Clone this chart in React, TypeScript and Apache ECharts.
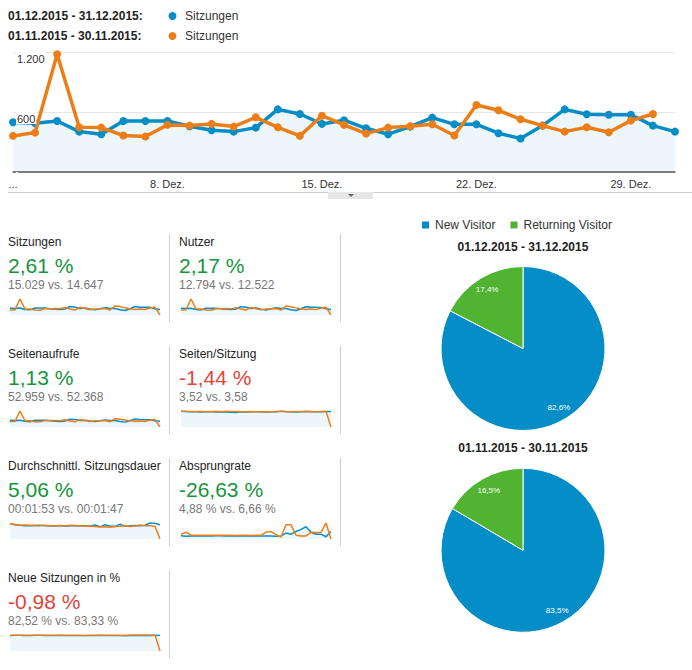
import React, { useEffect, useRef } from 'react';
import * as echarts from 'echarts';

const FONT = "'Liberation Sans', Arial, Helvetica, sans-serif";
const BLUE = '#058dc7';
const ORANGE = '#ed7e17';
const GREEN_PIE = '#50b432';
const GOOD = '#16963c';
const BAD = '#e2443a';

// ---- main chart data ----
const days = [
  '1. Dez.', '2. Dez.', '3. Dez.', '4. Dez.', '5. Dez.', '6. Dez.', '7. Dez.', '8. Dez.', '9. Dez.', '10. Dez.',
  '11. Dez.', '12. Dez.', '13. Dez.', '14. Dez.', '15. Dez.', '16. Dez.', '17. Dez.', '18. Dez.', '19. Dez.', '20. Dez.',
  '21. Dez.', '22. Dez.', '23. Dez.', '24. Dez.', '25. Dez.', '26. Dez.', '27. Dez.', '28. Dez.', '29. Dez.', '30. Dez.', '31. Dez.',
];
const periods = ['01.12.2015 - 31.12.2015', '01.11.2015 - 30.11.2015'];
const mainMetric = 'Sitzungen';
const sessionsDec = [497, 487, 510, 404, 378, 510, 510, 510, 457, 418, 404, 444, 626, 580, 481, 518, 437, 378, 454, 544, 477, 477, 388, 335, 464, 626, 577, 573, 573, 464, 404];
const sessionsNov = [361, 394, 1177, 447, 444, 365, 355, 471, 464, 481, 454, 547, 447, 361, 563, 471, 384, 444, 457, 477, 365, 670, 617, 527, 464, 404, 447, 398, 514, 580];
const yMax = 1200;
const yInterval = 600;

// ---- metric cards ----
const metricNames = ['Sitzungen', 'Nutzer', 'Seitenaufrufe', 'Seiten/Sitzung', 'Durchschnittl. Sitzungsdauer', 'Absprungrate', 'Neue Sitzungen in %'];
const metricChanges = ['2,61 %', '2,17 %', '1,13 %', '-1,44 %', '5,06 %', '-26,63 %', '-0,98 %'];
const metricGood = [true, true, true, false, true, true, false];
const metricCurrent = ['15.029', '12.794', '52.959', '3,52', '00:01:53', '4,88 %', '82,52 %'];
const metricPrevious = ['14.647', '12.522', '52.368', '3,58', '00:01:47', '6,66 %', '83,33 %'];

// sparkline series (December = blue, November = orange; Nov. has no 31st -> 0)
const sparkSitzungenDec = sessionsDec;
const sparkSitzungenNov = [361, 394, 1177, 447, 444, 365, 355, 471, 464, 481, 454, 547, 447, 361, 563, 471, 384, 444, 457, 477, 365, 670, 617, 527, 464, 404, 447, 398, 514, 580, 0];
const sparkNutzerDec = [425, 418, 436, 348, 326, 432, 437, 438, 392, 360, 347, 380, 530, 494, 412, 440, 375, 325, 390, 462, 408, 409, 335, 290, 398, 530, 490, 487, 486, 398, 350];
const sparkNutzerNov = [312, 340, 1020, 385, 383, 316, 308, 404, 400, 413, 391, 470, 385, 312, 484, 405, 331, 382, 393, 410, 316, 575, 530, 454, 400, 348, 385, 343, 442, 498, 0];
const sparkAufrufeDec = [1750, 1720, 1790, 1500, 1400, 1760, 1780, 1790, 1620, 1500, 1470, 1580, 2050, 1950, 1700, 1780, 1560, 1420, 1620, 1850, 1680, 1690, 1420, 1280, 1650, 2100, 1950, 1930, 1920, 1640, 1480];
const sparkAufrufeNov = [1380, 1480, 4200, 1640, 1620, 1380, 1350, 1700, 1680, 1730, 1640, 1900, 1600, 1360, 1930, 1700, 1420, 1620, 1660, 1720, 1380, 2200, 2050, 1820, 1660, 1480, 1600, 1460, 1800, 1950, 0];
const sparkSeitenDec = [3.62, 3.58, 3.55, 3.5, 3.45, 3.52, 3.55, 3.48, 3.5, 3.46, 3.42, 3.35, 3.5, 3.48, 3.55, 3.52, 3.5, 3.45, 3.52, 3.55, 3.7, 3.6, 3.52, 3.48, 3.55, 3.62, 3.58, 3.55, 3.52, 3.6, 3.58];
const sparkSeitenNov = [3.7, 3.65, 3.6, 3.58, 3.62, 3.55, 3.6, 3.62, 3.58, 3.65, 3.62, 3.6, 3.55, 3.5, 3.58, 3.55, 3.52, 3.48, 3.55, 3.6, 3.58, 3.52, 3.55, 3.6, 3.58, 3.55, 3.6, 3.52, 3.58, 3.62, 0];
const sparkDauerDec = [128, 120, 115, 112, 110, 114, 116, 112, 110, 108, 112, 106, 110, 114, 110, 112, 106, 118, 102, 120, 108, 104, 124, 106, 112, 114, 110, 116, 134, 132, 118];
const sparkDauerNov = [126, 122, 116, 118, 116, 114, 112, 116, 110, 112, 114, 108, 116, 110, 112, 106, 108, 104, 100, 102, 98, 104, 106, 110, 104, 108, 118, 110, 112, 104, 0];
const sparkAbsprungDec = [3.0, 2.6, 2.8, 3.0, 2.9, 3.0, 2.8, 3.0, 3.1, 2.9, 3.0, 2.8, 3.0, 2.9, 3.0, 2.8, 2.7, 2.9, 2.8, 2.6, 2.9, 5.6, 4.5, 7.0, 9.0, 11.5, 6.3, 4.5, 4.5, 2.1, 7.0];
const sparkAbsprungNov = [4.5, 6.3, 3.8, 3.5, 3.6, 3.4, 3.5, 3.6, 3.5, 3.4, 3.5, 3.3, 3.5, 3.4, 3.3, 3.4, 3.5, 6.5, 7.0, 4.0, 1.8, 13.3, 13.3, 3.5, 2.8, 2.8, 6.3, 6.0, 6.3, 15.0, 0];
const sparkNeuDec = [82.5, 82.8, 83.0, 82.6, 82.4, 82.7, 82.9, 82.5, 82.3, 82.6, 82.8, 82.4, 82.6, 82.5, 82.2, 81.5, 82.6, 82.4, 82.7, 82.5, 82.3, 82.6, 82.0, 81.2, 82.5, 82.8, 82.6, 82.7, 82.5, 82.9, 83.0];
const sparkNeuNov = [83.5, 83.2, 83.0, 83.4, 83.1, 83.3, 83.6, 83.2, 83.0, 83.4, 83.3, 83.1, 83.5, 83.2, 82.8, 82.0, 83.1, 83.4, 83.2, 83.0, 83.3, 83.1, 83.4, 83.2, 84.2, 84.5, 84.3, 84.6, 84.4, 84.2, 0];

const sparkDec = [sparkSitzungenDec, sparkNutzerDec, sparkAufrufeDec, sparkSeitenDec, sparkDauerDec, sparkAbsprungDec, sparkNeuDec];
const sparkNov = [sparkSitzungenNov, sparkNutzerNov, sparkAufrufeNov, sparkSeitenNov, sparkDauerNov, sparkAbsprungNov, sparkNeuNov];

// ---- pies ----
const visitorTypes = ['New Visitor', 'Returning Visitor'];
const visitorColors = [BLUE, GREEN_PIE];
const visitorsDec = [82.6, 17.4];
const visitorsNov = [83.5, 16.5];

function fmtDe(v: number) {
  return String(v).replace(/\B(?=(\d{3})+(?!\d))/g, '.');
}

export default function App() {
  const ref = useRef<HTMLDivElement>(null);

  useEffect(() => {
    if (!ref.current) return;
    const chart = echarts.init(ref.current, null, { renderer: 'svg' });

    const grids: any[] = [{ left: 13, right: 17, top: 52, height: 120 }];
    const xAxes: any[] = [
      {
        type: 'category', gridIndex: 0, data: days, boundaryGap: false,
        axisLine: { lineStyle: { color: '#555', width: 1.5 } },
        axisTick: { show: false },
        axisLabel: {
          interval: 6, color: '#333', fontSize: 11, fontFamily: FONT, margin: 6,
          formatter: (v: string, i: number) => (i === 0 ? '...' : v),
        },
      },
    ];
    const yAxes: any[] = [
      {
        type: 'value', gridIndex: 0, position: 'left', min: 0, max: yMax, interval: yInterval,
        axisLabel: { show: false }, axisLine: { show: false }, axisTick: { show: false },
        splitLine: { lineStyle: { color: '#e6e6e6' } },
      },
      {
        type: 'value', gridIndex: 0, position: 'left', min: 0, max: yMax, interval: yInterval, z: 10,
        axisLine: { show: false }, axisTick: { show: false }, splitLine: { show: false },
        axisLabel: {
          inside: true, margin: 3, align: 'left', verticalAlign: 'top', color: '#333', fontSize: 11,
          fontFamily: FONT, backgroundColor: '#fff', padding: [1, 1, 0, 1],
          formatter: (v: number) => (v === 0 ? '' : fmtDe(v)),
        },
      },
    ];
    const series: any[] = [
      {
        type: 'line', name: 'Sitzungen Dez', xAxisIndex: 0, yAxisIndex: 0, data: sessionsDec,
        color: BLUE, lineStyle: { width: 3.5 }, symbol: 'circle', symbolSize: 8, showSymbol: true,
        areaStyle: { color: 'rgba(5,141,199,0.1)' }, z: 2,
      },
      {
        type: 'line', name: 'Sitzungen Nov', xAxisIndex: 0, yAxisIndex: 0, data: sessionsNov,
        color: ORANGE, lineStyle: { width: 3.5 }, symbol: 'circle', symbolSize: 8, showSymbol: true, z: 3,
      },
    ];

    const graphics: any[] = [];
    const txt = (x: number, y: number, text: string, opts: any = {}) => ({
      type: 'text', x, y, silent: true,
      style: {
        text, fill: opts.fill || '#222', fontSize: opts.size || 12, fontWeight: opts.weight || 'normal',
        fontFamily: FONT, verticalAlign: 'middle', align: opts.align || 'left',
      },
    });
    const vline = (x: number, y1: number, y2: number) => ({
      type: 'line', silent: true, shape: { x1: x, y1, x2: x, y2 }, style: { stroke: '#cfcfcf', lineWidth: 1 },
    });

    // main legend
    const legendColors = [BLUE, ORANGE];
    periods.forEach((p, i) => {
      const y = 16 + 20 * i;
      graphics.push(txt(8, y, p + ':', { weight: 'bold' }));
      graphics.push({ type: 'circle', silent: true, shape: { cx: 172.5, cy: y, r: 4 }, style: { fill: legendColors[i] } });
      graphics.push(txt(185, y, mainMetric, { fill: '#333' }));
    });

    // separator under main chart + collapse tab
    graphics.push({ type: 'line', silent: true, shape: { x1: 8, y1: 192.5, x2: 692, y2: 192.5 }, style: { stroke: '#d0d0d0', lineWidth: 1 } });
    graphics.push({ type: 'rect', silent: true, shape: { x: 328, y: 192, width: 45, height: 7 }, style: { fill: '#e6e6e6' } });
    graphics.push({ type: 'polygon', silent: true, shape: { points: [[348, 194], [354, 194], [351, 197]] }, style: { fill: '#666' } });

    // metric cards + sparklines
    metricNames.forEach((name, k) => {
      const col = k % 2;
      const row = Math.floor(k / 2);
      const x = 8 + 171 * col;
      const base = 242 + 112 * row;
      graphics.push(txt(x, base, name, { fill: '#222' }));
      graphics.push(txt(x, base + 23, metricChanges[k], { fill: metricGood[k] ? GOOD : BAD, size: 21 }));
      graphics.push(txt(x, base + 43, metricCurrent[k] + ' vs. ' + metricPrevious[k], { fill: '#777' }));

      const gi = grids.length;
      grids.push({ left: x + 2, width: 150, top: 299 + 112 * row, height: 16 });
      xAxes.push({ type: 'category', gridIndex: gi, data: days, boundaryGap: false, show: false });
      const yi = yAxes.length;
      yAxes.push({ type: 'value', gridIndex: gi, min: 0, max: 'dataMax', show: false, splitLine: { show: false } });
      series.push({
        type: 'line', xAxisIndex: gi, yAxisIndex: yi, data: sparkDec[k], color: BLUE, showSymbol: false,
        lineStyle: { width: 1.5 }, areaStyle: { color: 'rgba(5,141,199,0.1)' }, silent: true, z: 2,
      });
      series.push({
        type: 'line', xAxisIndex: gi, yAxisIndex: yi, data: sparkNov[k], color: ORANGE, showSymbol: false,
        lineStyle: { width: 1.5 }, silent: true, z: 3,
      });
    });
    for (let r = 0; r < 4; r++) {
      graphics.push(vline(169.5, 234 + 112 * r, 322 + 112 * r));
      if (r < 3) graphics.push(vline(340.5, 234 + 112 * r, 322 + 112 * r));
    }

    // pies
    const pieSets = [
      { title: periods[0], values: visitorsDec, cy: 348.5, ty: 247 },
      { title: periods[1], values: visitorsNov, cy: 550.3, ty: 448 },
    ];
    pieSets.forEach((ps) => {
      graphics.push(txt(523, ps.ty, ps.title, { weight: 'bold', align: 'center', fill: '#222' }));
      series.push({
        type: 'pie', center: [523, ps.cy], radius: [0, 82], startAngle: 90, clockwise: true, silent: true,
        label: { show: false }, labelLine: { show: false },
        itemStyle: { borderColor: '#fff', borderWidth: 1 },
        data: visitorTypes.map((n, i) => ({ name: n, value: ps.values[i], itemStyle: { color: visitorColors[i] } })),
      });
      series.push({
        type: 'pie', center: [523, ps.cy], radius: [50, 82], startAngle: 90, clockwise: true, silent: true,
        labelLine: { show: false },
        label: {
          show: true, position: 'inside', color: '#fff', fontSize: 8, fontFamily: FONT,
          formatter: (p: any) => p.value.toFixed(1).replace('.', ',') + '%',
        },
        itemStyle: { color: 'rgba(0,0,0,0)' },
        data: visitorTypes.map((n, i) => ({ name: n, value: ps.values[i], itemStyle: { color: 'rgba(0,0,0,0)' } })),
      });
    });

    chart.setOption({
      animation: false,
      backgroundColor: '#fff',
      textStyle: { fontFamily: FONT },
      legend: {
        left: 415, top: 214, itemWidth: 9, itemHeight: 9, itemGap: 13, icon: 'rect', selectedMode: false,
        textStyle: { fontSize: 12, color: '#333', fontFamily: FONT },
        data: visitorTypes.map((n, i) => ({ name: n, itemStyle: { color: visitorColors[i] } })),
      },
      grid: grids,
      xAxis: xAxes,
      yAxis: yAxes,
      series,
      graphic: graphics,
    });

    return () => chart.dispose();
  }, []);

  return (
    <div
      ref={ref}
      style={{ position: 'absolute', left: 0, top: 0, width: 692, height: 670, background: '#fff' }}
    />
  );
}
